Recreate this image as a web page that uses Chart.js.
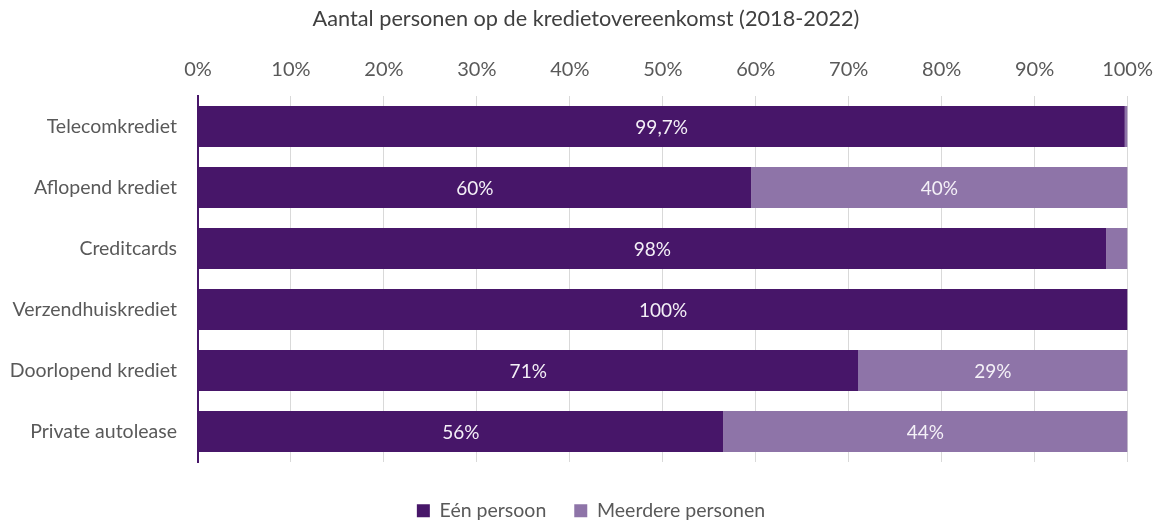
<!DOCTYPE html>
<html>
<head>
<meta charset="utf-8">
<script src="https://cdn.jsdelivr.net/npm/chart.js@4"></script>
<style>
  html, body { margin: 0; padding: 0; background: #fff; }
  #wrap { width: 1158px; height: 525px; }
</style>
</head>
<body>
<div id="wrap"><canvas id="chart"></canvas></div>
<script>
// ===== DATA =====
const categories = ['Telecomkrediet', 'Aflopend krediet', 'Creditcards', 'Verzendhuiskrediet', 'Doorlopend krediet', 'Private autolease'];
const eenPersoon = [99.7, 59.5, 97.7, 100, 71, 56.5];
const meerderePersonen = [0.3, 40.5, 2.3, 0, 29, 43.5];
const eenLabels = ['99,7%', '60%', '98%', '100%', '71%', '56%'];
const meerdereLabels = ['', '40%', '', '', '29%', '44%'];
const seriesNames = ['Eén persoon', 'Meerdere personen'];

const FONT = 'Lato, "Open Sans", sans-serif';
const TEXT = '#595959';

// white labels in the middle of the bar segments
const barLabels = {
    id: 'barLabels',
    afterDatasetsDraw(chart) {
        const ctx = chart.ctx;
        const texts = [eenLabels, meerdereLabels];
        ctx.save();
        ctx.fillStyle = '#f4f0f7';
        ctx.font = '19px ' + FONT;
        ctx.textAlign = 'center';
        ctx.textBaseline = 'middle';
        chart.data.datasets.forEach((ds, di) => {
            const meta = chart.getDatasetMeta(di);
            meta.data.forEach((bar, i) => {
                const t = texts[di][i];
                if (!t) return;
                const p = bar.getCenterPoint();
                ctx.fillText(t, p.x, p.y + 1);
            });
        });
        ctx.restore();
    }
};

// title and legend sit a little right of the canvas centre in the original
const nudgeBlocks = {
    id: 'nudgeBlocks',
    afterLayout(chart) {
        const lg = chart.legend;
        if (lg) {
            lg.left = 24;
            lg.right = chart.width;
            lg.width = chart.width - 24;
        }
        if (chart.titleBlock) chart.titleBlock.left += 14;
    },
    afterUpdate(chart) {
        if (chart.legend && chart.legend.adjustHitBoxes) chart.legend.adjustHitBoxes();
    }
};

new Chart(document.getElementById('chart'), {
    type: 'bar',
    data: {
        labels: categories,
        datasets: [
            {
                label: seriesNames[0],
                data: eenPersoon,
                backgroundColor: '#471669',
                barPercentage: 0.67,
                categoryPercentage: 1
            },
            {
                label: seriesNames[1],
                data: meerderePersonen,
                backgroundColor: '#8e74a8',
                barPercentage: 0.67,
                categoryPercentage: 1
            }
        ]
    },
    options: {
        indexAxis: 'y',
        responsive: true,
        maintainAspectRatio: false,
        animation: false,
        layout: { padding: { left: 0, right: 0, top: 0, bottom: 0 } },
        plugins: {
            title: {
                display: true,
                text: 'Aantal personen op de kredietovereenkomst (2018-2022)',
                color: '#404040',
                font: { family: FONT, size: 21.7, weight: 'normal' },
                padding: { top: 6, bottom: 4 }
            },
            legend: {
                position: 'bottom',
                maxHeight: 52,
                labels: {
                    color: TEXT,
                    font: { family: FONT, size: 19.5 },
                    boxWidth: 13,
                    boxHeight: 13,
                    padding: 28
                }
            },
            tooltip: { enabled: false }
        },
        scales: {
            x: {
                position: 'top',
                stacked: true,
                min: 0,
                max: 100,
                ticks: {
                    stepSize: 10,
                    color: TEXT,
                    font: { family: FONT, size: 20 },
                    padding: 5,
                    callback: (v) => v + '%'
                },
                grid: { color: '#d9d9d9', drawTicks: true, tickLength: 9, tickColor: 'rgba(0,0,0,0)' },
                border: { display: false },
                afterFit: (s) => { s.height = 60; }
            },
            x2: {
                position: 'bottom',
                display: true,
                ticks: { display: false },
                grid: { display: false },
                border: { display: false },
                afterFit: (s) => { s.height = 11; }
            },
            y: {
                stacked: true,
                ticks: {
                    color: TEXT,
                    font: { family: FONT, size: 19.5 },
                    padding: 13
                },
                grid: { display: false },
                border: { color: '#471669', width: 2 },
                afterFit: (s) => { s.width = 198; }
            }
        }
    },
    plugins: [barLabels, nudgeBlocks]
});
</script>
</body>
</html>
